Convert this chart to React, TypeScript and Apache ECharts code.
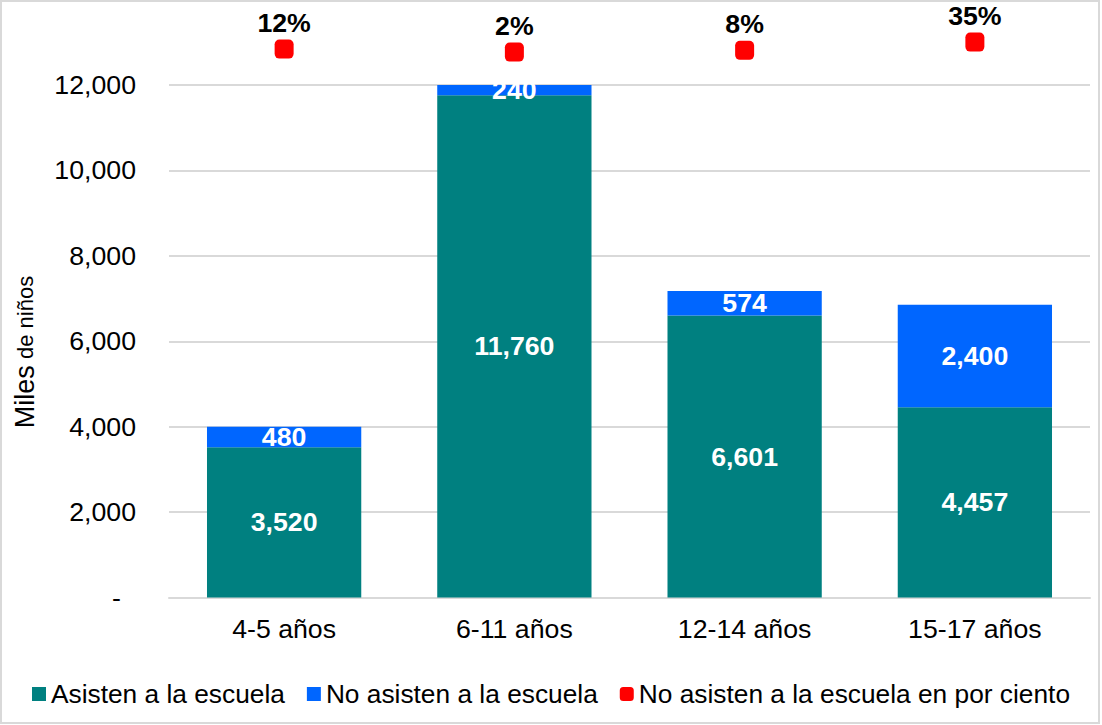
import React, { useEffect, useRef } from "react";
import * as echarts from "echarts";

const categories = ["4-5 años", "6-11 años", "12-14 años", "15-17 años"];
const asisten = [3520, 11760, 6601, 4457];
const noAsisten = [480, 240, 574, 2400];
const noAsistenPct = [12, 2, 8, 35];
const seriesNames = [
  "Asisten a la escuela",
  "No asisten a la escuela",
  "No asisten a la escuela en por ciento",
];

const FONT = "'Liberation Sans', Arial, sans-serif";
const FS = 26.7;
const fmt = (v: number) => v.toLocaleString("en-US");

export default function App() {
  const ref = useRef<HTMLDivElement>(null);
  useEffect(() => {
    if (!ref.current) return;
    const chart = echarts.init(ref.current, null, { renderer: "svg" });
    const gridLeft = 169;
    const gridRight = 12;
    chart.setOption({
      animation: false,
      backgroundColor: "#ffffff",
      textStyle: { fontFamily: FONT },
      graphic: [
        {
          type: "rect",
          shape: { x: 1, y: 1, width: 1098, height: 722 },
          style: { fill: "none", stroke: "#d9d9d9", lineWidth: 2 },
          silent: true,
        },
        {
          type: "text",
          x: 25,
          y: 352,
          rotation: Math.PI / 2,
          style: {
            text: "{a|Miles}{b| de niños}",
            align: "center",
            verticalAlign: "middle",
            fill: "#000",
            rich: {
              a: { fontSize: 27, fontFamily: FONT, fill: "#000" },
              b: { fontSize: 22, fontFamily: FONT, fill: "#000" },
            },
          },
        },
      ],
      legend: {
        top: 676,
        left: "center",
        itemWidth: 14,
        itemHeight: 14,
        itemGap: 22,
        textStyle: { fontSize: 26.3, color: "#000", fontFamily: FONT },
        data: [
          { name: seriesNames[0], icon: "rect" },
          { name: seriesNames[1], icon: "rect" },
          { name: seriesNames[2], icon: "roundRect" },
        ],
      },
      grid: [
        { left: gridLeft, right: gridRight, top: 85, bottom: 127.5 },
        { left: gridLeft, right: gridRight, top: 30, height: 40 },
      ],
      xAxis: [
        {
          type: "category",
          gridIndex: 0,
          data: categories,
          axisLine: { lineStyle: { color: "#d9d9d9", width: 2 } },
          axisTick: { show: false },
          axisLabel: { fontSize: FS, color: "#000", margin: 18, fontFamily: FONT },
        },
        {
          type: "category",
          gridIndex: 1,
          data: categories,
          show: false,
        },
      ],
      yAxis: [
        {
          type: "value",
          gridIndex: 0,
          min: 0,
          max: 12000,
          interval: 2000,
          axisLine: { show: false },
          axisTick: { show: false },
          splitLine: { lineStyle: { color: "#d9d9d9", width: 2 } },
          axisLabel: {
            fontSize: FS,
            color: "#000",
            margin: 33,
            fontFamily: FONT,
            formatter: (v: number) => (v === 0 ? "{z|-}" : fmt(v)),
            rich: {
              z: { fontSize: FS, color: "#000", padding: [0, 15, 0, 0], fontFamily: FONT },
            },
          },
        },
        {
          type: "value",
          gridIndex: 1,
          min: -57,
          max: 75,
          show: false,
        },
      ],
      series: [
        {
          name: seriesNames[0],
          type: "bar",
          stack: "total",
          xAxisIndex: 0,
          yAxisIndex: 0,
          barWidth: "67%",
          data: asisten,
          itemStyle: { color: "#008080" },
          label: {
            show: true,
            position: "inside",
            color: "#fff",
            fontWeight: "bold",
            fontSize: FS,
            fontFamily: FONT,
            formatter: (p: any) => fmt(p.value),
          },
        },
        {
          name: seriesNames[1],
          type: "bar",
          stack: "total",
          xAxisIndex: 0,
          yAxisIndex: 0,
          barWidth: "67%",
          data: noAsisten,
          itemStyle: { color: "#0066FF" },
          label: {
            show: true,
            position: "inside",
            color: "#fff",
            fontWeight: "bold",
            fontSize: FS,
            fontFamily: FONT,
            formatter: (p: any) => fmt(p.value),
          },
        },
        {
          name: seriesNames[2],
          type: "scatter",
          xAxisIndex: 1,
          yAxisIndex: 1,
          symbol: "roundRect",
          symbolSize: 19,
          data: noAsistenPct,
          itemStyle: { color: "#FF0000", opacity: 1 },
          emphasis: { disabled: true },
          label: {
            show: true,
            position: "top",
            distance: 3,
            color: "#000000",
            opacity: 1,
            textBorderWidth: 0,
            fontWeight: "bold",
            fontSize: FS,
            fontFamily: FONT,
            formatter: (p: any) => p.value + "%",
          },
        },
      ],
    });
    return () => chart.dispose();
  }, []);
  return (
    <div
      ref={ref}
      style={{ position: "fixed", left: 0, top: 0, width: 1102, height: 725 }}
    />
  );
}
